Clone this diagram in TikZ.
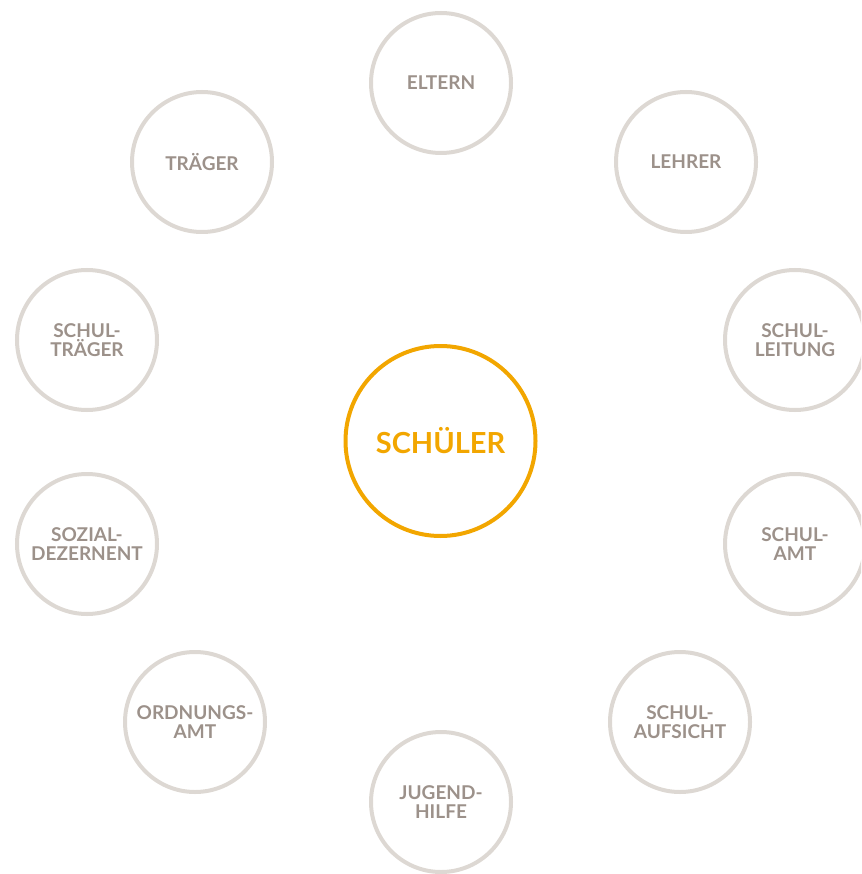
\documentclass[tikz,border=0pt]{standalone}
\usepackage{fontspec}
\setmainfont{Lato}
\usepackage{tikz}
\definecolor{ringgray}{HTML}{DDD8D3}
\definecolor{textgray}{HTML}{9C918A}
\definecolor{schuelerorange}{HTML}{F2A600}

\begin{document}
\begin{tikzpicture}[x=1pt,y=-1pt,
    partner/.style={circle,draw=ringgray,line width=4pt,minimum size=140pt,inner sep=0pt,
        align=center,text=textgray,font=\fontsize{19}{19}\selectfont\bfseries},
    center/.style={circle,draw=schuelerorange,line width=4pt,minimum size=190pt,inner sep=0pt,
        text=schuelerorange,font=\fontsize{29}{30}\selectfont\bfseries}]
            \useasboundingbox (0,0) rectangle (861,874);
            \clip (0,0) rectangle (861,874);

            \node[center] (schueler) at (440.5,441) {SCHÜLER};

            \node[partner] (eltern) at (441,83) {ELTERN};
            \node[partner] (lehrer) at (686,162) {LEHRER};
            \node[partner] (schulleitung) at (795,340) {SCHUL-\\LEITUNG};
            \node[partner] (schulamt) at (795,544) {SCHUL-\\AMT};
            \node[partner] (schulaufsicht) at (680,722) {SCHUL-\\AUFSICHT};
            \node[partner] (jugendhilfe) at (441,802) {JUGEND-\\HILFE};
            \node[partner] (ordnungsamt) at (195,722) {ORDNUNGS-\\AMT};
            \node[partner] (sozial) at (87,544) {SOZIAL-\\DEZERNENT};
            \node[partner] (schultraeger) at (87,340) {SCHUL-\\TRÄGER};
            \node[partner] (traeger) at (202,162) {TRÄGER};
        \end{tikzpicture}
\end{document}
